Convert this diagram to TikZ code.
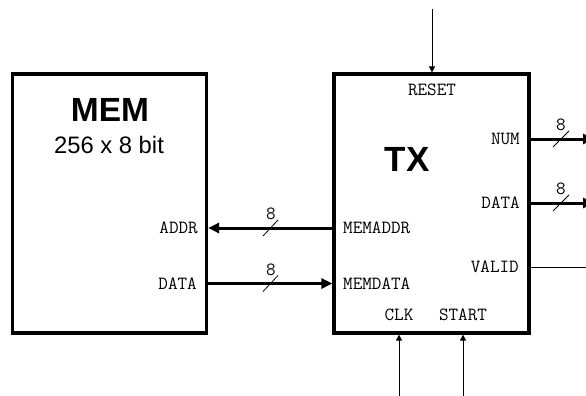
\documentclass[tikz,border=0pt]{standalone}
\usepackage{fontspec}
\setmainfont{Liberation Sans}
\usetikzlibrary{arrows.meta}
\tikzset{
  blockbox/.style={draw, line width=3.2pt, fill=white, inner sep=0pt},
  portlbl/.style={font=\ttfamily\fontsize{18.6}{20}\selectfont, inner sep=0pt},
  titlelbl/.style={font=\bfseries\fontsize{33.5}{36}\selectfont, inner sep=0pt},
  sublbl/.style={font=\fontsize{23.8}{26}\selectfont, inner sep=0pt},
  buswire/.style={line width=3pt},
  sigwire/.style={line width=1pt},
  bighead/.style={-{Triangle[length=11pt,width=10pt]}},
  smallhead/.style={-{Triangle[length=6pt,width=6pt]}},
  widthmark/.style={line width=0.8pt}
}
\begin{document}
\begin{tikzpicture}[x=1pt,y=-1pt]
\useasboundingbox (0,0) rectangle (586,396);
\fill[white] (0,0) rectangle (586,396);
% boxes
\node[blockbox, minimum width=194pt, minimum height=259pt] (mem) at (109.5,203.5) {};
\node[blockbox, minimum width=195pt, minimum height=259pt] (tx) at (431.5,203.5) {};
% titles
\node[titlelbl] (memt) at (110,110) {MEM};
\node[sublbl] (mems) at (109,145) {256 x 8 bit};
\node[titlelbl, font=\bfseries\fontsize{35}{38}\selectfont] (txt) at (407,159) {TX};
% port labels
\node[portlbl, anchor=east] (addr) at (198,228) {ADDR};
\node[portlbl, anchor=east] (mdata) at (197,283.5) {DATA};
\node[portlbl, anchor=west] (memaddr) at (343,228) {MEMADDR};
\node[portlbl, anchor=west] (memdata) at (343,283.5) {MEMDATA};
\node[portlbl] (reset) at (432,90) {RESET};
\node[portlbl, anchor=east] (num) at (520,139) {NUM};
\node[portlbl, anchor=east] (tdata) at (520,203) {DATA};
\node[portlbl, anchor=east] (valid) at (519,267) {VALID};
\node[portlbl] (clk) at (399,314.5) {CLK};
\node[portlbl] (start) at (463,314.5) {START};
% wire coordinates
\coordinate (ya) at (0,228);
\coordinate (yd) at (0,283.5);
\coordinate (numend) at (594,139);
\coordinate (dataend) at (594,203);
\coordinate (validend) at (592,267);
\coordinate (resettop) at (432,9);
\coordinate (clkbot) at (399,398);
\coordinate (startbot) at (463,398);
% buses
\draw[buswire, bighead] (tx.west |- ya) -- (mem.east |- ya);
\draw[buswire, bighead] (mem.east |- yd) -- (tx.west |- yd);
\draw[buswire, bighead] (tx.east |- numend) -- (numend);
\draw[buswire, bighead] (tx.east |- dataend) -- (dataend);
\draw[sigwire, smallhead] (tx.east |- validend) -- (validend);
\draw[sigwire, smallhead] (resettop) -- (tx.north -| resettop);
\draw[sigwire, smallhead] (clkbot) -- (tx.south -| clkbot);
\draw[sigwire, smallhead] (startbot) -- (tx.south -| startbot);
% width marks
\draw[widthmark] (263,236) -- (278,220);
\draw[widthmark] (263,291.5) -- (278,275.5);
\draw[widthmark] (553,147) -- (569,131);
\draw[widthmark] (553,211) -- (569,195);
\node[portlbl] (w1) at (271,214) {8};
\node[portlbl] (w2) at (271,269.5) {8};
\node[portlbl] (w3) at (561,125) {8};
\node[portlbl] (w4) at (561,189) {8};
\end{tikzpicture}
\end{document}
